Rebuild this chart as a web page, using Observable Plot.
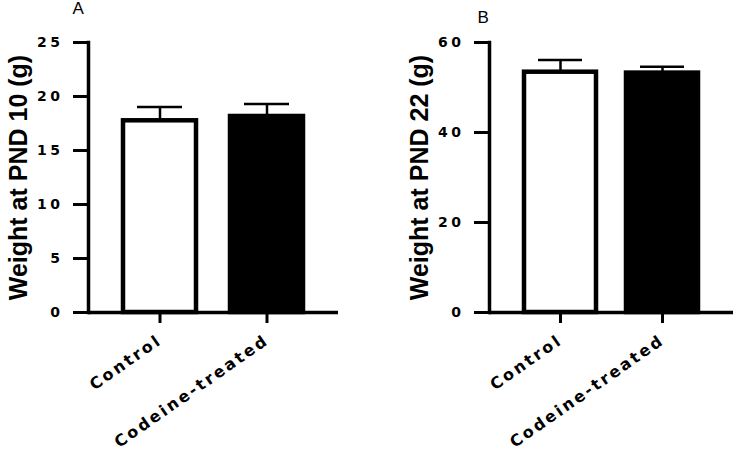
<!DOCTYPE html>
<html>
<head>
<meta charset="utf-8">
<script src="https://cdn.jsdelivr.net/npm/d3@7"></script>
<script src="https://cdn.jsdelivr.net/npm/@observablehq/plot@0.6"></script>
<style>
  html, body { margin: 0; padding: 0; background: white; }
  #wrap { display: flex; width: 736px; height: 452px; overflow: hidden; }
</style>
</head>
<body>
<div id="wrap"></div>
<script>
const groups = ["Control", "Codeine-treated"];

const meanA = [17.75, 18.15];
const semA = [1.28, 1.15];
const ticksA = [0, 5, 10, 15, 20, 25];
const labelA = "Weight at PND 10 (g)";
const titleA = "A";

const meanB = [53.4, 53.2];
const semB = [2.7, 1.4];
const ticksB = [0, 20, 40, 60];
const labelB = "Weight at PND 22 (g)";
const titleB = "B";

function panel({title, label, means, sems, ticks, max, marginLeft, marginRight, padding, paddingOuter, titleDx, titleDy}) {
  const data = groups.map((g, i) => ({group: g, mean: means[i], sem: sems[i]}));
  const svg = Plot.plot({
    width: 368, height: 452,
    marginTop: 42, marginBottom: 140, marginLeft, marginRight,
    style: {fontFamily: "DejaVu Sans", fontWeight: "bold", color: "black", background: "white", overflow: "visible"},
    x: {domain: groups, padding, paddingOuter, align: 0.5, label: null},
    y: {domain: [0, max], label: null},
    color: {domain: groups, range: ["white", "black"]},
    marks: [
      Plot.ruleX(data, {x: "group", y1: "mean", y2: d => d.mean + d.sem, stroke: "black", strokeWidth: 2.5}),
      Plot.tickY(data, {x: "group", y: d => d.mean + d.sem, stroke: "black", strokeWidth: 2.5, insetLeft: 14, insetRight: 14}),
      Plot.barY(data, {x: "group", y: "mean", fill: "group", stroke: "black", strokeWidth: 4.5}),
      Plot.ruleY([0], {stroke: "black", strokeWidth: 3.5}),
      Plot.frame({anchor: "left", stroke: "black", strokeWidth: 3.5}),
      Plot.axisY({ticks, tickSize: 15, tickPadding: 10, strokeWidth: 3, fontSize: 14, label: null}),
      Plot.axisX({tickSize: 11, tickPadding: 15, tickRotate: -35, strokeWidth: 3, fontSize: 16, label: null}),
      Plot.text([label], {frameAnchor: "left", textAnchor: "middle", rotate: -90, dx: -70, fontSize: 25, fontFamily: "Liberation Sans", fontWeight: "bold", fill: "black"}),
      Plot.text([title], {frameAnchor: "top-left", textAnchor: "start", lineAnchor: "bottom", dx: titleDx, dy: titleDy, fontSize: 17, fontWeight: "normal", fontFamily: "Liberation Sans", fill: "black"})
    ]
  });
  d3.select(svg).selectAll('g[aria-label="y-axis tick label"] text').style("letter-spacing", "3.5px");
  d3.select(svg).selectAll('g[aria-label="x-axis tick label"] text').style("letter-spacing", "2.5px");
  return svg;
}

const wrap = document.getElementById("wrap");
wrap.appendChild(panel({title: titleA, label: labelA, means: meanA, sems: semA, ticks: ticksA, max: 25,
  marginLeft: 88, marginRight: 30, padding: 0.318, paddingOuter: 0.327, titleDx: -16, titleDy: -29}));
wrap.appendChild(panel({title: titleB, label: labelB, means: meanB, sems: semB, ticks: ticksB, max: 60,
  marginLeft: 121, marginRight: 3, padding: 0.291, paddingOuter: 0.33, titleDx: -12, titleDy: -20}));
</script>
</body>
</html>
